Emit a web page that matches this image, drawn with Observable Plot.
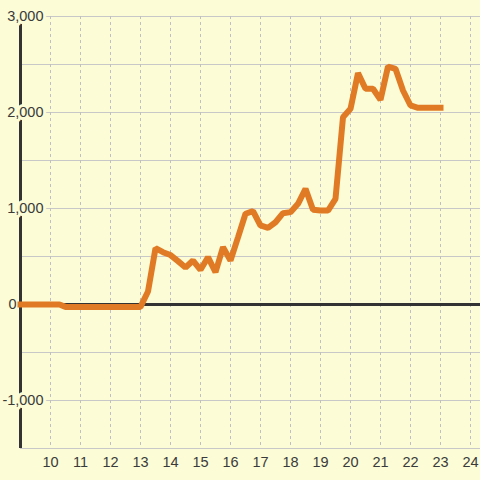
<!DOCTYPE html>
<html>
<head>
<meta charset="utf-8">
<script src="https://cdn.jsdelivr.net/npm/d3@7"></script>
<script src="https://cdn.jsdelivr.net/npm/@observablehq/plot@0.6"></script>
<style>
  html, body { margin: 0; padding: 0; background: #fcfcd6; }
</style>
</head>
<body>
<div id="chart"></div>
<script>
const hours = [9, 10.3, 10.5, 13, 13.25, 13.5, 13.75, 14, 14.25, 14.5, 14.75, 15, 15.25, 15.5, 15.75, 16, 16.25, 16.5, 16.75, 17, 17.25, 17.5, 17.75, 18, 18.25, 18.5, 18.75, 19, 19.25, 19.5, 19.75, 20, 20.25, 20.5, 20.75, 21, 21.25, 21.5, 21.75, 22, 22.25, 22.5, 22.75, 23];
const values = [0, 0, -25, -25, 135, 587, 545, 515, 452, 385, 458, 361, 493, 336, 597, 458, 700, 945, 972, 823, 799, 857, 951, 962, 1049, 1205, 986, 979, 979, 1101, 1951, 2038, 2410, 2247, 2247, 2132, 2479, 2455, 2229, 2073, 2049, 2049, 2049, 2049];
const xTicks = [10, 11, 12, 13, 14, 15, 16, 17, 18, 19, 20, 21, 22, 23, 24];
const yGrid = [-1500, -1000, -500, 0, 500, 1000, 1500, 2000, 2500, 3000];
const yLabels = [-1000, 0, 1000, 2000, 3000];

const data = hours.map((h, i) => ({hour: h, value: values[i]}));
const bg = "#fcfcd6";
const fmt = d => d.toLocaleString("en-US");

const chart = Plot.plot({
  width: 480,
  height: 480,
  marginLeft: 20,
  marginRight: 0,
  marginTop: 16,
  marginBottom: 32,
  style: {background: bg, fontFamily: "Liberation Sans, Arial, sans-serif", fontSize: "14.5px", color: "#3a3a3a"},
  x: {domain: [9, 24 + 1/3], axis: null},
  y: {domain: [-1500, 3000], axis: null},
  marks: [
    Plot.ruleY(yGrid, {stroke: "#c8c8c8", strokeWidth: 1}),
    Plot.ruleX(xTicks, {stroke: "#c0c0c0", strokeWidth: 1, strokeDasharray: "3,3"}),
    Plot.ruleY([0], {stroke: "#333333", strokeWidth: 3}),
    Plot.ruleX([9], {stroke: "#333333", strokeWidth: 3}),
    Plot.line(data, {x: "hour", y: "value", stroke: "#e07a24", strokeWidth: 6, strokeLinecap: "square", strokeLinejoin: "miter"}),
    Plot.text(yLabels.filter(d => d !== 0), {
      x: 9, y: d => d, text: d => fmt(d),
      textAnchor: "end", dx: 23,
      fill: "#3a3a3a", stroke: bg, strokeWidth: 6, fontSize: 14.5
    }),
    Plot.text(yLabels.filter(d => d === 0), {
      x: 9, y: d => d, text: d => fmt(d),
      textAnchor: "end", dx: -4,
      fill: "#3a3a3a", fontSize: 14.5
    }),
    Plot.axisX(xTicks, {tickSize: 0, tickPadding: 8, fill: "#3a3a3a", fontSize: 14.5, label: null, tickFormat: d => String(d)})
  ]
});
document.getElementById("chart").appendChild(chart);
</script>
</body>
</html>
